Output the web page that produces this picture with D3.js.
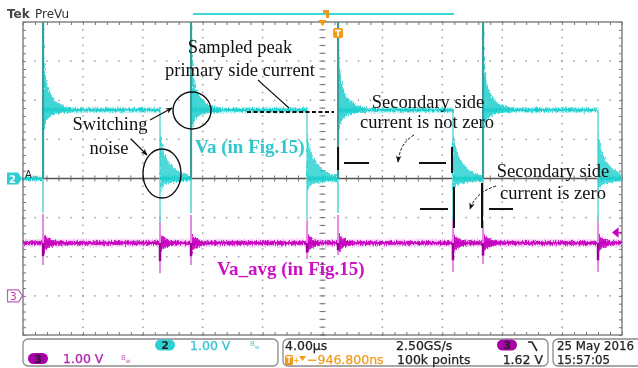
<!DOCTYPE html>
<html><head><meta charset="utf-8">
<script src="https://cdn.jsdelivr.net/npm/d3@7"></script>
<style>
html,body{margin:0;padding:0;background:#fff;}
svg{display:block;}
</style></head>
<body>
<svg id="scope" width="638" height="368"></svg>
<script>
// ---- acquisition settings ----
const timeDomain = [0, 40];        // 10 div x 4 us/div
const ch2Volts = [4, -4];          // ch2 ground at centre, 1 V/div
const ch3Volts = [7, -1];          // ch3 ground 3 div below centre, 1 V/div

// ---- Va (ch2) ----
const vaRiseTimes = [1.34, 11.22, 21.04, 30.72];
const vaFallTimes = [9.15, 18.97, 28.71, 38.40];
const vaHigh = 1.75;
const vaLow = 0;
const vaRiseTop = 4.5;
const vaRiseDip = [-0.87, -0.89, -0.88, -0.98];
const vaFallDip = [-1.13, -1.06, -1.06, -1.10];
// ringing envelope after turn-on (dt in us, volts)
const riseRingDt = [0, 0.08, 0.2, 0.4, 0.7, 1.0, 1.4, 1.9];
const riseRingHi = [4.3, 3.1, 2.6, 2.25, 2.05, 1.93, 1.86, 1.82];
const riseRingLo = [1.2, 1.3, 1.45, 1.55, 1.62, 1.66, 1.68, 1.69];
// ringing envelope after turn-off
const fallRingDt = [0, 0.1, 0.3, 0.6, 0.9, 1.3, 1.7, 2.0];
const fallRingHi = [1.15, 0.95, 0.65, 0.42, 0.28, 0.17, 0.1, 0.08];
const fallRingLo = [-0.4, -0.25, -0.16, -0.12, -0.1, -0.08, -0.07, -0.07];

// ---- Va_avg (ch3) ----
const avgLevel = 1.35;
const avgEdgeTimes = [1.34, 9.15, 11.22, 18.97, 21.04, 28.71, 30.72, 38.40];
const avgSpikeUp   = [2.09, 2.07, 2.07, 1.93, 2.07, 2.07, 1.93, 2.07];
const avgSpikeDown = [0.79, 0.58, 0.79, 0.94, 1.04, 0.61, 0.81, 0.61];
const avgRingDt  = [0, 0.15, 0.35, 0.6, 0.9];
const avgRingAmp = [0.3, 0.18, 0.12, 0.08, 0.06];

// ---- readouts ----
const ch2Scale = "1.00 V";
const ch3Scale = "1.00 V";
const horizScale = "4.00\u00b5s";
const sampleRate = "2.50GS/s";
const recordLen = "100k points";
const trigDelay = "\u2212946.800ns";
const trigLevel = "1.62 V";
const dateText = "25 May 2016";
const timeText = "15:57:05";

const CYAN = "#1fcfcf", CYAN_HALO = "#8fe6e6", TEAL = "#3a9e9e";
const MAG = "#c800c0", MAG_LIGHT = "#e48ae4", MAG_DARK = "#9a0096";
const ORANGE = "#f39a1b";

const svg = d3.select("#scope");
const L = 23, R = 622, T = 22, B = 335;
const x = d3.scaleLinear().domain(timeDomain).range([L, R]);
const y2 = d3.scaleLinear().domain(ch2Volts).range([T, B]);
const y3 = d3.scaleLinear().domain(ch3Volts).range([T, B]);

const defs = svg.append("defs");
defs.append("clipPath").attr("id", "plot").append("rect")
  .attr("x", L).attr("y", T).attr("width", R - L).attr("height", B - T);
const grain = defs.append("filter").attr("id", "grain")
  .attr("filterUnits", "userSpaceOnUse").attr("x", 0).attr("y", 0).attr("width", 638).attr("height", 368);
grain.append("feTurbulence").attr("type", "fractalNoise").attr("baseFrequency", "1.1 0.3")
  .attr("numOctaves", 2).attr("seed", 7).attr("result", "n");
grain.append("feDisplacementMap").attr("in", "SourceGraphic").attr("in2", "n")
  .attr("scale", 5).attr("xChannelSelector", "R").attr("yChannelSelector", "G");
defs.append("marker").attr("id", "arr").attr("viewBox", "0 0 10 10").attr("refX", 9).attr("refY", 5)
  .attr("markerWidth", 7).attr("markerHeight", 7).attr("orient", "auto-start-reverse")
  .attr("markerUnits", "userSpaceOnUse")
  .append("path").attr("d", "M0,1 L10,5 L0,9 L3,5 Z").attr("fill", "#111");

// ---- graticule ----
const grat = svg.append("g");
const majorT = d3.range(timeDomain[0], timeDomain[1] + 0.01, 4);
const minorT = d3.range(timeDomain[0], timeDomain[1] + 0.01, 0.8);
const majorV = d3.range(-4, 4.01, 1);
const minorV = d3.range(-4, 4.01, 0.2);
const dots = [];
majorT.filter(t => t > 0 && t < 40).forEach(t => minorV.forEach(v => dots.push([x(t), y2(v)])));
majorV.filter(v => v > -4 && v < 4).forEach(v => minorT.forEach(t => dots.push([x(t), y2(v)])));
grat.selectAll("rect.dot").data(dots).join("rect").attr("class", "dot")
  .attr("x", d => d[0] - 0.75).attr("y", d => d[1] - 0.75).attr("width", 1.5).attr("height", 1.5)
  .attr("fill", "#9a9a9a");
// centre horizontal line
grat.append("line").attr("x1", L).attr("x2", R).attr("y1", y2(0)).attr("y2", y2(0))
  .attr("stroke", "#555").attr("stroke-width", 1.3);
// centre ticks
grat.selectAll("line.ctx").data(minorT).join("line").attr("class", "ctx")
  .attr("x1", d => x(d)).attr("x2", d => x(d)).attr("y1", y2(0) - 3).attr("y2", y2(0) + 3)
  .attr("stroke", "#777").attr("stroke-width", 1);
grat.selectAll("line.cty").data(minorV).join("line").attr("class", "cty")
  .attr("x1", x(20) - 3).attr("x2", x(20) + 3).attr("y1", d => y2(d)).attr("y2", d => y2(d))
  .attr("stroke", "#777").attr("stroke-width", 1);
// frame with inward ticks
grat.append("rect").attr("x", L).attr("y", T).attr("width", R - L).attr("height", B - T)
  .attr("fill", "none").attr("stroke", "#666").attr("stroke-width", 1.2);
const topAxis = d3.axisBottom(x).tickValues(minorT).tickSize(3).tickFormat("");
const botAxis = d3.axisTop(x).tickValues(minorT).tickSize(3).tickFormat("");
const leftAxis = d3.axisRight(y2).tickValues(minorV).tickSize(3).tickFormat("");
const rightAxis = d3.axisLeft(y2).tickValues(minorV).tickSize(3).tickFormat("");
[[topAxis, `translate(0,${T})`], [botAxis, `translate(0,${B})`],
 [leftAxis, `translate(${L},0)`], [rightAxis, `translate(${R},0)`]].forEach(([ax, tr]) => {
  const g = grat.append("g").attr("transform", tr).call(ax);
  g.select(".domain").remove();
  g.selectAll("line").attr("stroke", "#777");
});

// ---- traces ----
const traces = svg.append("g").attr("clip-path", "url(#plot)");

// Va_avg (ch3)
const magBand = traces.append("g").attr("filter", "url(#grain)");
magBand.append("line").attr("x1", x(0)).attr("x2", x(40)).attr("y1", y3(avgLevel)).attr("y2", y3(avgLevel))
  .attr("stroke", MAG_LIGHT).attr("stroke-width", 7).attr("opacity", 0.55);
magBand.append("line").attr("x1", x(0)).attr("x2", x(40)).attr("y1", y3(avgLevel)).attr("y2", y3(avgLevel))
  .attr("stroke", MAG).attr("stroke-width", 3.5);
const avgRingArea = d3.area().x(d => x(d.t)).y0(d => y3(avgLevel - d.a)).y1(d => y3(avgLevel + d.a));
avgEdgeTimes.forEach(t0 => {
  const pts = avgRingDt.map((dt, i) => ({ t: t0 + dt, a: avgRingAmp[i] }));
  magBand.append("path").datum(pts).attr("d", avgRingArea).attr("fill", MAG).attr("opacity", 0.9);
});
avgEdgeTimes.forEach((t0, i) => {
  const mid = avgLevel - (avgLevel - avgSpikeDown[i]) * 0.6;
  traces.append("line").attr("x1", x(t0)).attr("x2", x(t0)).attr("y1", y3(avgLevel)).attr("y2", y3(avgSpikeUp[i]))
    .attr("stroke", MAG_LIGHT).attr("stroke-width", 2);
  traces.append("line").attr("x1", x(t0)).attr("x2", x(t0)).attr("y1", y3(mid)).attr("y2", y3(avgSpikeDown[i]))
    .attr("stroke", MAG_LIGHT).attr("stroke-width", 2);
  traces.append("line").attr("x1", x(t0)).attr("x2", x(t0)).attr("y1", y3(avgLevel)).attr("y2", y3(mid))
    .attr("stroke", MAG_DARK).attr("stroke-width", 2.5);
});

// Va (ch2)
const vaSegs = [];
let tPrev = timeDomain[0];
vaRiseTimes.forEach((r, i) => {
  vaSegs.push({ a: tPrev, b: r, v: vaLow });
  vaSegs.push({ a: r, b: vaFallTimes[i], v: vaHigh });
  tPrev = vaFallTimes[i];
});
vaSegs.push({ a: tPrev, b: timeDomain[1], v: vaLow });

// edge transients first so the band sits on top
vaFallTimes.forEach((f, i) => {
  traces.append("line").attr("x1", x(f)).attr("x2", x(f)).attr("y1", y2(vaHigh)).attr("y2", y2(vaFallDip[i]))
    .attr("stroke", "#6fdada").attr("stroke-width", 1.6);
});
vaRiseTimes.forEach((r, i) => {
  traces.append("line").attr("x1", x(r)).attr("x2", x(r)).attr("y1", y2(vaLow)).attr("y2", y2(vaRiseDip[i]))
    .attr("stroke", "#6fdada").attr("stroke-width", 1.8);
});

const vaBand = traces.append("g").attr("filter", "url(#grain)");
vaBand.selectAll("line.halo").data(vaSegs).join("line").attr("class", "halo")
  .attr("x1", d => x(d.a)).attr("x2", d => x(d.b)).attr("y1", d => y2(d.v)).attr("y2", d => y2(d.v))
  .attr("stroke", CYAN_HALO).attr("stroke-width", 6).attr("opacity", 0.55);
vaBand.selectAll("line.core").data(vaSegs).join("line").attr("class", "core")
  .attr("x1", d => x(d.a)).attr("x2", d => x(d.b)).attr("y1", d => y2(d.v)).attr("y2", d => y2(d.v))
  .attr("stroke", CYAN).attr("stroke-width", 3);
const ringArea = d3.area().x(d => x(d.t)).y0(d => y2(d.lo)).y1(d => y2(d.hi)).curve(d3.curveMonotoneX);
vaRiseTimes.forEach(r => {
  const pts = riseRingDt.map((dt, i) => ({ t: r + dt, hi: riseRingHi[i], lo: riseRingLo[i] }));
  vaBand.append("path").datum(pts).attr("d", ringArea).attr("fill", CYAN).attr("opacity", 0.85);
});
vaFallTimes.forEach(f => {
  const pts = fallRingDt.map((dt, i) => ({ t: f + dt, hi: fallRingHi[i], lo: fallRingLo[i] }))
    .filter(d => d.t <= timeDomain[1] + 1);
  vaBand.append("path").datum(pts).attr("d", ringArea).attr("fill", CYAN).attr("opacity", 0.8);
});
vaRiseTimes.forEach(r => {
  traces.append("line").attr("x1", x(r)).attr("x2", x(r)).attr("y1", y2(vaLow)).attr("y2", y2(vaRiseTop))
    .attr("stroke", TEAL).attr("stroke-width", 2.2);
});

// ---- header ----
svg.append("text").attr("x", 7).attr("y", 18).attr("font-family", "DejaVu Sans").attr("font-weight", "bold")
  .attr("font-size", 12).attr("fill", "#444").text("Tek");
svg.append("text").attr("x", 35).attr("y", 18).attr("font-family", "DejaVu Sans")
  .attr("font-size", 12).attr("fill", "#333").text("PreVu");
svg.append("line").attr("x1", 193).attr("x2", 454).attr("y1", 14).attr("y2", 14)
  .attr("stroke", "#3dd6d6").attr("stroke-width", 2);
svg.append("path").attr("d", "M323,10 h6 v8 h-3 v-5 h-3 Z").attr("fill", ORANGE);
svg.append("path").attr("d", `M${x(20) - 4},20 h8 l-4,6 Z`).attr("fill", ORANGE);
// trigger point icon
const trigIcon = svg.append("g").attr("transform", `translate(${x(vaRiseTimes[2]) - 5},28)`);
trigIcon.append("rect").attr("width", 10).attr("height", 10).attr("rx", 2).attr("fill", ORANGE);
trigIcon.append("path").attr("d", "M2,2.5 h6 M5,2.5 v6").attr("stroke", "#fff").attr("stroke-width", 1.6);

// ---- channel markers ----
const m2 = svg.append("g").attr("transform", `translate(0,${y2(0)})`);
m2.append("path").attr("d", "M7,-6 h11 l4,6 l-4,6 h-11 Z").attr("fill", "#2ccfd6");
m2.append("text").attr("x", 12.5).attr("y", 4).attr("text-anchor", "middle").attr("font-family", "DejaVu Sans")
  .attr("font-weight", "bold").attr("font-size", 10).attr("fill", "#fff").text("2");
svg.append("text").attr("x", 25).attr("y", y2(0) - 1).attr("font-family", "DejaVu Sans")
  .attr("font-size", 10).attr("fill", "#222").text("A");
const m3 = svg.append("g").attr("transform", `translate(0,${y3(0)})`);
m3.append("path").attr("d", "M7.5,-6 h11 l4,6 l-4,6 h-11 Z").attr("fill", "#fff")
  .attr("stroke", "#c060c0").attr("stroke-width", 1.2);
m3.append("text").attr("x", 13.5).attr("y", 4).attr("text-anchor", "middle").attr("font-family", "DejaVu Sans")
  .attr("font-size", 10).attr("fill", "#b040b0").text("3");
// trigger level marker
const tl = y3(1.62);
svg.append("path").attr("d", `M613,${tl} l5,-4 v8 Z M617,${tl} h5`).attr("fill", MAG).attr("stroke", MAG).attr("stroke-width", 1.2);

// ---- annotations ----
const ann = svg.append("g").attr("font-family", "Liberation Serif").attr("font-size", 18.5).attr("fill", "#111")
  .attr("text-anchor", "middle");
[["Sampled peak", 240, 53], ["primary side current", 240, 76], ["Switching", 110, 130], ["noise", 109, 154],
 ["Secondary side", 428, 108], ["current is not zero", 427, 128], ["Secondary side", 553, 177],
 ["current is zero", 553, 199]].forEach(([s, cx, cy]) => ann.append("text").attr("x", cx).attr("y", cy).text(s));

svg.append("text").attr("x", 195).attr("y", 153).attr("font-family", "Liberation Serif").attr("font-weight", "bold")
  .attr("font-size", 19).attr("fill", "#2cc8cc").text("Va (in Fig.15)");
svg.append("text").attr("x", 217).attr("y", 275).attr("font-family", "Liberation Serif").attr("font-weight", "bold")
  .attr("font-size", 19).attr("fill", "#cc10c4").text("Va_avg (in Fig.15)");

const ink = svg.append("g").attr("fill", "none").attr("stroke", "#111");
ink.append("ellipse").attr("cx", 192).attr("cy", 110.5).attr("rx", 19).attr("ry", 18.5).attr("stroke-width", 1.4);
ink.append("ellipse").attr("cx", 162).attr("cy", 173.5).attr("rx", 19).attr("ry", 24.5).attr("stroke-width", 1.4);
ink.append("line").attr("x1", 150).attr("y1", 120).attr("x2", 172).attr("y2", 108).attr("stroke-width", 1.2)
  .attr("marker-end", "url(#arr)");
ink.append("line").attr("x1", 131).attr("y1", 139).attr("x2", 147).attr("y2", 155).attr("stroke-width", 1.2)
  .attr("marker-end", "url(#arr)");
ink.append("line").attr("x1", 258).attr("y1", 80).attr("x2", 289).attr("y2", 108).attr("stroke-width", 1.2);
ink.append("line").attr("x1", 247).attr("y1", 112).attr("x2", 334).attr("y2", 112).attr("stroke-width", 2)
  .attr("stroke-dasharray", "4,2.5");
ink.append("path").attr("d", "M414,135 Q400,143 398,162").attr("stroke-width", 1).attr("stroke-dasharray", "3,1.5")
  .attr("marker-end", "url(#arr)");
ink.append("path").attr("d", "M496,186 Q476,192 470,209").attr("stroke-width", 1).attr("stroke-dasharray", "3,1.5")
  .attr("marker-end", "url(#arr)");
const seg = [[344, 163, 369, 163], [419, 163, 446, 163], [338, 147, 338, 170], [452, 147, 452, 173],
  [420, 209, 448, 209], [489, 209, 513, 209], [454, 187, 454, 228], [482, 183, 482, 228]];
ink.selectAll("line.seg").data(seg).join("line").attr("class", "seg")
  .attr("x1", d => d[0]).attr("y1", d => d[1]).attr("x2", d => d[2]).attr("y2", d => d[3]).attr("stroke-width", 2);

// ---- readout panel ----
const foot = svg.append("g").attr("font-family", "DejaVu Sans").attr("font-size", 12.5);
[[23, 278], [283, 548], [553, 645]].forEach(([a, b]) => foot.append("rect").attr("x", a).attr("y", 339)
  .attr("width", b - a).attr("height", 27).attr("rx", 5).attr("fill", "#fff").attr("stroke", "#8a8a8a").attr("stroke-width", 1.3));
function pill(cx, cy, fill, label) {
  foot.append("rect").attr("x", cx - 10).attr("y", cy - 5.5).attr("width", 20).attr("height", 11).attr("rx", 5.5).attr("fill", fill);
  foot.append("text").attr("x", cx).attr("y", cy + 4).attr("text-anchor", "middle").attr("font-size", 11)
    .attr("font-weight", "bold").attr("fill", "#222").text(label);
}
function bw(x0, y0, col) {
  const t = foot.append("text").attr("x", x0).attr("y", y0).attr("fill", col).attr("font-size", 7);
  t.append("tspan").text("B");
  t.append("tspan").attr("dy", 3).attr("font-size", 6).text("w");
}
pill(165, 345, "#2fd0d4", "2");
foot.append("text").attr("x", 190).attr("y", 349.5).attr("fill", "#33c6d0").attr("stroke", "#33c6d0").attr("stroke-width", 0.25).text(ch2Scale);
bw(250, 346, "#55c8d0");
pill(38, 358.5, "#a800a8", "3");
foot.append("text").attr("x", 63).attr("y", 363).attr("fill", "#b020b0").attr("stroke", "#b020b0").attr("stroke-width", 0.25).text(ch3Scale);
bw(121, 360, "#c060c0");

const dark = "#222";
function txt(x0, y0, s, col, anchor, size) {
  foot.append("text").attr("x", x0).attr("y", y0).attr("fill", col).attr("stroke", col).attr("stroke-width", 0.25)
    .attr("font-size", size || 12.5).attr("text-anchor", anchor || "start").text(s);
}
txt(285, 349.5, horizScale, dark);
txt(396, 349.5, sampleRate, dark);
pill(507, 345, "#a800a8", "3");
foot.append("path").attr("d", "M528,342 h4 l5,9").attr("fill", "none").attr("stroke", dark).attr("stroke-width", 1.6);
foot.append("rect").attr("x", 285).attr("y", 355).attr("width", 8).attr("height", 10).attr("rx", 1.5).attr("fill", ORANGE);
foot.append("path").attr("d", "M286.5,357 h5 M289,357 v6").attr("stroke", "#fff").attr("stroke-width", 1.3);
foot.append("text").attr("x", 293).attr("y", 363).attr("font-size", 8).attr("fill", ORANGE).text("+");
foot.append("path").attr("d", "M299,356 h7 l-3.5,5 Z").attr("fill", ORANGE);
txt(307, 364, trigDelay, ORANGE);
txt(397, 364, recordLen, dark);
txt(543, 364, trigLevel, dark, "end");
txt(557, 349.5, dateText, dark, "start", 11.8);
txt(557, 364, timeText, dark, "start", 11.8);
</script>
</body></html>
